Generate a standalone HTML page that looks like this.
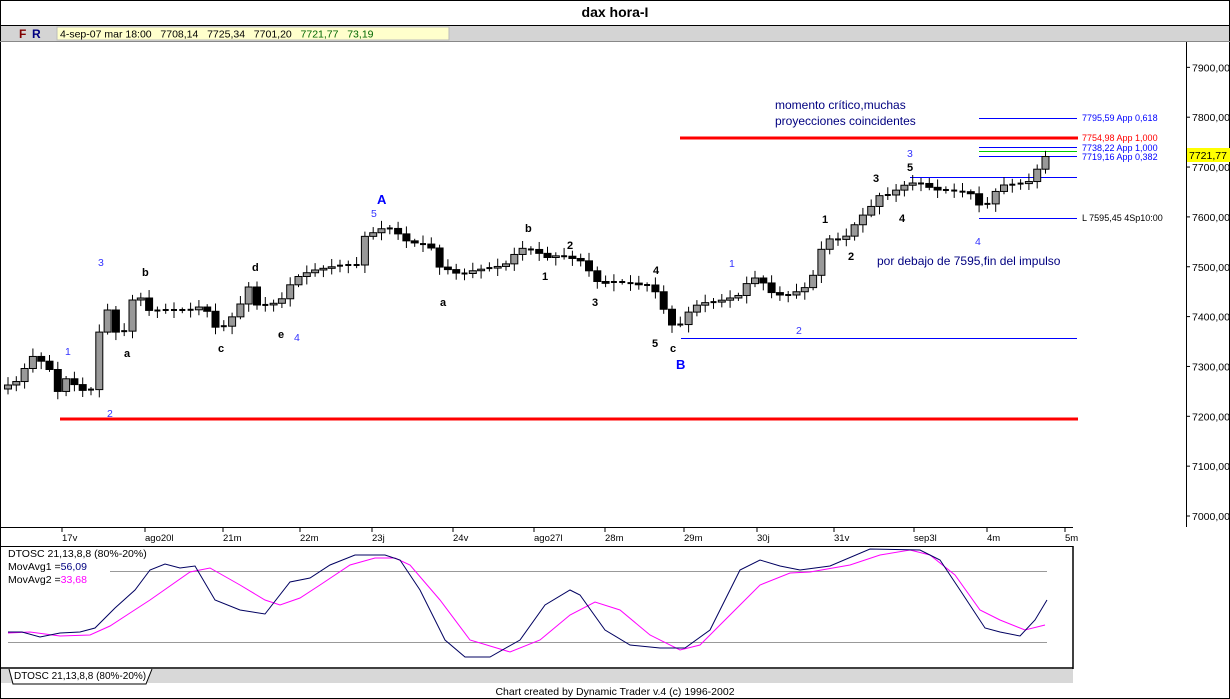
<!DOCTYPE html>
<html><head><meta charset="utf-8"><style>
body{margin:0;background:#fff;width:1230px;height:699px;overflow:hidden;font-family:"Liberation Sans",sans-serif}
svg{display:block}
text{font-family:"Liberation Sans",sans-serif}
</style></head><body>
<svg id="s" width="1230" height="699" xmlns="http://www.w3.org/2000/svg">
<rect x="0" y="0" width="1230" height="699" fill="#fff"/>
<rect x="0.5" y="0.5" width="1229" height="698" fill="none" stroke="#000"/>
<text x="615" y="17" font-size="14" font-weight="bold" text-anchor="middle">dax hora-I</text>
<line x1="0" y1="25.5" x2="1230" y2="25.5" stroke="#000"/>
<rect x="1" y="26" width="1228" height="15" fill="#d4d4d4"/>
<line x1="0" y1="41.5" x2="1230" y2="41.5" stroke="#888"/>
<text x="19" y="38" font-size="12" font-weight="bold" fill="#800000">F</text>
<text x="32" y="38" font-size="12" font-weight="bold" fill="#000080">R</text>
<rect x="57" y="27" width="392" height="13" fill="#ffffcc" stroke="#bbb"/>
<text x="60" y="37.5" font-size="10.5">4-sep-07 mar 18:00 &#160; 7708,14 &#160; 7725,34 &#160; 7701,20 &#160; <tspan fill="#006600">7721,77 &#160; 73,19</tspan></text>
<!-- right axis -->
<line x1="1186.5" y1="42" x2="1186.5" y2="527" stroke="#000"/>
<g font-size="10.5" id="ax"></g>
<rect x="1187" y="148" width="43" height="14" fill="#ffff00"/>
<text x="1189" y="159" font-size="10.5">7721,77</text>
<!-- date axis -->
<line x1="0" y1="527.5" x2="1073" y2="527.5" stroke="#000"/>
<line x1="0" y1="546.5" x2="1073" y2="546.5" stroke="#000"/>
<line x1="1073" y1="546" x2="1073" y2="669" stroke="#000" stroke-width="1.5"/>
<g id="dt" font-size="9.5"></g>
<!-- osc -->
<line x1="110" y1="571.5" x2="1047" y2="571.5" stroke="#999"/>
<line x1="8" y1="642.5" x2="1047" y2="642.5" stroke="#999"/>
<line x1="0" y1="668" x2="1073" y2="668" stroke="#000" stroke-width="1.5"/>
<rect x="1" y="669" width="1072" height="14" fill="#d8d8d8"/>
<path d="M9,669 L13,684 L146,684 L152,669" fill="#fff" stroke="#000"/>
<text x="14" y="679" font-size="10">DTOSC 21,13,8,8 (80%-20%)</text>
<text x="615" y="695" font-size="10.5" text-anchor="middle">Chart created by Dynamic Trader v.4  (c) 1996-2002</text>
<text x="8" y="557" font-size="10.5">DTOSC 21,13,8,8 (80%-20%)</text>
<text x="8" y="570" font-size="10.5">MovAvg1 =<tspan fill="#000080">56,09</tspan></text>
<text x="8" y="583" font-size="10.5">MovAvg2 =<tspan fill="#ff00ff">33,68</tspan></text>
<polyline fill="none" stroke="#ff00ff" stroke-width="1" points="8,633 30,632 60,636 90,635 110,626 150,600 190,572 210,568 240,585 265,600 280,605 300,598 320,585 350,565 375,558 395,558 410,565 440,600 470,640 510,652 540,640 570,615 595,602 620,610 650,635 680,650 700,645 730,615 760,585 790,573 810,572 850,565 880,555 910,550 930,555 955,575 980,610 1000,620 1025,630 1045,625"/>
<polyline fill="none" stroke="#000060" stroke-width="1" points="8,632 22,632 40,637 60,633 80,632 95,628 115,608 135,590 150,570 165,564 180,568 195,566 215,600 240,610 265,614 290,582 310,578 330,565 355,555 385,555 400,560 420,590 445,640 465,657 490,657 520,640 545,605 570,590 580,595 605,630 630,645 660,648 685,648 710,630 740,570 760,560 780,566 800,570 830,566 870,549 920,550 940,560 960,590 985,628 1000,632 1020,636 1035,620 1047,600"/>
<!-- red lines -->
<line x1="60" y1="419" x2="1078" y2="419" stroke="#ff0000" stroke-width="3"/>
<line x1="680" y1="138" x2="1078" y2="138" stroke="#ff0000" stroke-width="3"/>
<!-- blue lines -->
<line x1="979" y1="118.5" x2="1077" y2="118.5" stroke="#0000ff"/>
<line x1="979" y1="147.5" x2="1077" y2="147.5" stroke="#0000ff"/>
<line x1="979" y1="151.5" x2="1077" y2="151.5" stroke="#00cc00"/>
<line x1="979" y1="156.5" x2="1077" y2="156.5" stroke="#0000ff"/>
<line x1="910" y1="177.5" x2="1077" y2="177.5" stroke="#0000ff"/>
<line x1="979" y1="218.5" x2="1077" y2="218.5" stroke="#0000ff"/>
<line x1="681" y1="338.5" x2="1077" y2="338.5" stroke="#0000ff"/>
<g font-size="9">
<text x="1082" y="121" fill="#0000ff">7795,59 App 0,618</text>
<text x="1082" y="141" fill="#ff0000">7754,98 App 1,000</text>
<text x="1082" y="151" fill="#0000ff">7738,22 App 1,000</text>
<text x="1082" y="160" fill="#0000ff">7719,16 App 0,382</text>
<text x="1082" y="221" fill="#000">L 7595,45 4Sp10:00</text>
</g>
<g id="c"></g>
<g font-size="11" font-weight="bold" fill="#000">
<text x="142" y="276">b</text><text x="124" y="357">a</text><text x="218" y="352">c</text><text x="252" y="271">d</text><text x="278" y="338">e</text>
<text x="525" y="232">b</text><text x="440" y="306">a</text><text x="542" y="280">1</text><text x="567" y="249">2</text><text x="592" y="306">3</text><text x="653" y="274">4</text><text x="652" y="347">5</text><text x="670" y="352">c</text>
<text x="822" y="223">1</text><text x="848" y="260">2</text><text x="873" y="182">3</text><text x="899" y="222">4</text><text x="907" y="171">5</text>
</g>
<g font-size="10.5" fill="#3333ff">
<text x="65" y="355">1</text><text x="107" y="417">2</text><text x="98" y="266">3</text><text x="294" y="341">4</text><text x="371" y="217">5</text>
<text x="729" y="267">1</text><text x="796" y="334">2</text><text x="907" y="157">3</text><text x="975" y="245">4</text>
</g>
<text x="377" y="204" font-size="13" font-weight="bold" fill="#0000ff">A</text>
<text x="676" y="369" font-size="13" font-weight="bold" fill="#0000ff">B</text>
<g font-size="12" fill="#000080">
<text x="775" y="109">momento crítico,muchas</text>
<text x="775" y="125">proyecciones coincidentes</text>
<text x="877" y="265">por debajo de 7595,fin del impulso</text>
</g>
</svg>
<script>
var NS="http://www.w3.org/2000/svg";
function el(p,t,a,tx){var e=document.createElementNS(NS,t);for(var k in a)e.setAttribute(k,a[k]);if(tx)e.textContent=tx;document.getElementById(p).appendChild(e);}
for(var p=7000;p<=7900;p+=100){var y=516-(p-7000)*0.4985;el("ax","line",{x1:1186,y1:y,x2:1190,y2:y,stroke:"#000"});el("ax","text",{x:1192,y:y+4},p+",00");}
var d=[[62,"17v"],[145,"ago20l"],[223,"21m"],[300,"22m"],[372,"23j"],[453,"24v"],[534,"ago27l"],[605,"28m"],[684,"29m"],[757,"30j"],[834,"31v"],[914,"sep3l"],[987,"4m"],[1065,"5m"]];
d.forEach(function(a){el("dt","line",{x1:a[0],y1:527,x2:a[0],y2:532,stroke:"#000"});el("dt","text",{x:a[0],y:541},a[1]);});
var k=[[8,385],[20,380],[30,355],[40,360],[50,370],[58,392],[65,378],[75,385],[85,392],[95,388],[101,310],[110,310],[118,340],[125,330],[133,298],[142,298],[150,312],[160,310],[175,310],[190,310],[205,305],[212,325],[220,330],[230,320],[240,305],[248,285],[255,305],[265,305],[280,302],[290,285],[300,275],[315,270],[330,267],[345,265],[357,265],[365,236],[375,232],[385,227],[395,230],[403,240],[415,243],[430,245],[440,268],[450,270],[460,275],[475,270],[490,268],[505,265],[520,248],[535,250],[545,258],[560,255],[570,258],[580,260],[590,272],[600,285],[610,282],[625,282],[640,285],[650,285],[658,295],[670,325],[680,325],[690,310],[700,303],[715,302],[730,298],[740,295],[750,278],[760,278],[768,290],[775,295],[790,295],[800,290],[810,285],[818,260],[825,238],[835,240],[845,238],[852,228],[860,218],[870,208],[880,195],[890,195],[900,187],[910,183],[920,183],[935,190],[950,190],[965,192],[975,195],[982,212],[990,200],[1000,185],[1010,185],[1025,183],[1033,180],[1040,162],[1047,155]];
function f(x){for(var i=1;i<k.length;i++){if(x<=k[i][0]){var a=k[i-1],b=k[i];return a[1]+(b[1]-a[1])*(x-a[0])/(b[0]-a[0]);}}return k[k.length-1][1];}
var prev=f(8)+4;
for(var x=8;x<=1048;x+=8.3){var c=f(x),o=prev;var hi=Math.min(o,c)-2-(Math.abs(Math.sin(x))*6),lo=Math.max(o,c)+2+(Math.abs(Math.cos(x*1.3))*6);
el("c","line",{x1:x,y1:hi,x2:x,y2:lo,stroke:"#000"});
var h=Math.abs(c-o);if(h<1.5){el("c","line",{x1:x-3,y1:c,x2:x+3,y2:c,stroke:"#000","stroke-width":2});}
else el("c","rect",{x:x-3.5,y:Math.min(o,c),width:7,height:h,fill:c<o?"#999":"#000",stroke:"#000"});prev=c;}
</script>
</body></html>
